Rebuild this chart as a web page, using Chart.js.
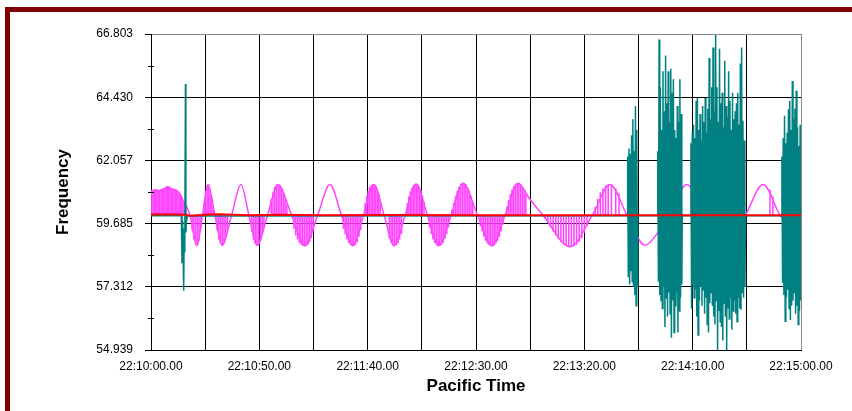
<!DOCTYPE html>
<html lang="en">
<head>
    <meta charset="UTF-8">
    <title>Frequency - Pacific Time</title>
    <script src="https://cdn.jsdelivr.net/npm/chart.js@4"></script>
    <style>
        * { margin: 0; padding: 0; box-sizing: border-box; }
        html, body { width: 852px; height: 411px; background: #fff; overflow: hidden; }
        .frame {
            position: absolute; left: 5px; top: 7px; right: 0; bottom: -10px;
            border-left: 5px solid #800000; border-top: 5px solid #800000;
        }
        #freqChart { position: absolute; left: 0; top: 0; }
    </style>
</head>
<body>
    <div class="frame"></div>
    <canvas id="freqChart" width="852" height="411"></canvas>

    <script>
        // seconds after 22:10:00
        const xLabels = ['22:10:00.00', '22:10:50.00', '22:11:40.00', '22:12:30.00', '22:13:20.00', '22:14:10.00', '22:15:00.00'];
        const xGrid = [0, 25, 50, 75, 100, 125, 150, 175, 200, 225, 250, 275, 300];
        const yLabels = ['54.939', '57.312', '59.685', '62.057', '64.430', '66.803'];
        const yMajor = [54.939, 57.312, 59.685, 62.057, 64.430, 66.803];

        // magenta curve (knots)
        const magT = [0, 1.8, 4.2, 6.0, 7.8, 9.7, 11.5, 13.4, 14.8, 16.6, 18.0, 21.2, 23.8, 26.3, 29.5, 32.8, 37.2, 41.5, 45.2, 48.9,
            53.8, 58.6, 64.9, 71.1, 76.9, 82.6, 87.9, 93.2, 98.1, 102.9, 107.6, 112.2, 117.3, 122.3, 127.6, 132.9, 138.5, 144.0,
            150.7, 157.4, 163.4, 169.4, 174.9, 180.9, 193.4, 204.0, 211.8, 219.7, 228.0, 233.5, 240.0, 247.4, 255.0, 262.6, 274.2,
            282.5, 290.3, 300];
        const magV = [60.92, 60.95, 60.93, 61.0, 61.07, 60.98, 60.95, 60.8, 60.55, 60.3, 60.0, 58.85, 60.0, 61.15, 60.0, 58.87, 60.0, 61.15, 60.0, 58.87,
            60.0, 61.15, 60.0, 58.85, 60.0, 61.15, 60.0, 58.85, 60.0, 61.15, 60.0, 58.85, 60.0, 61.17, 60.0, 58.85, 60.0, 61.2,
            60.0, 58.85, 60.0, 61.2, 60.6, 60.0, 58.82, 60.05, 61.15, 60.0, 58.87, 59.3, 60.25, 61.15, 60.0, 58.9, 60.0,
            61.15, 60.0, 58.95];

        // magenta drop lines down/up to the 60 Hz base
        const magBase = 60.0;
        const magDropT = [0.4, 1.0, 1.6, 2.2, 2.8, 3.4, 4.0, 4.6, 5.2, 5.8, 6.4, 7.0, 7.6, 8.2, 8.8, 9.4, 10.0, 10.6, 11.2, 11.8, 12.4, 13.0, 13.6, 14.2, 14.8, 15.4, 16.0,
            19.0, 19.8, 20.6, 21.4, 22.2, 23.0,
            24.5, 25.2, 25.9, 26.6, 27.3, 28.0, 28.7,
            30.5, 31.3, 32.1, 32.9, 33.7, 34.5, 35.3,
            46.5, 47.3, 48.1, 48.9, 49.7, 50.5, 51.3, 52.1,
            55.5, 56.3, 57.1, 57.9, 58.7, 59.5, 60.3, 61.1, 61.9, 62.7,
            66.0, 66.8, 67.6, 68.4, 69.2, 70.0, 70.8, 71.6, 72.4, 73.2, 74.0, 74.8,
            88.8, 89.6, 90.4, 91.2, 92.0, 92.8, 93.6, 94.4, 95.2, 96.0, 96.8,
            98.8, 99.5, 100.2, 100.9, 101.6, 102.3, 103.0, 103.7, 104.4, 105.1, 105.8,
            110.0, 110.8, 111.6, 112.4, 113.2, 114.0, 114.8, 115.6,
            118.3, 119.0, 119.7, 120.4, 121.1, 121.8, 122.5, 123.2, 123.9, 124.6, 125.3, 126.0,
            128.5, 129.3, 130.1, 130.9, 131.7, 132.5, 133.3, 134.1, 134.9, 135.7, 136.5, 137.3,
            138.9, 139.7, 140.5, 141.3, 142.1, 142.9, 143.7, 144.5, 145.3, 146.1, 146.9, 147.7, 148.5,
            152.0, 152.8, 153.6, 154.4, 155.2, 156.0, 156.8, 157.6, 158.4, 159.2, 160.0, 160.8, 161.6, 162.4,
            164.2, 165.0, 165.8, 166.6, 167.4, 168.2, 169.0, 169.8, 170.6, 171.4, 172.2, 173.0,
            182.0, 183.2, 184.4, 185.6, 186.8, 188.0, 189.2, 190.4, 191.6, 192.8, 194.0, 195.2, 196.4, 197.6, 198.8, 200.0, 201.2,
            205.0, 206.2, 207.4, 208.6, 209.8, 211.0, 212.5, 214.5, 216.0,
            285.7, 287.0];
        const magDropV = [60.92, 60.93, 60.95, 60.95, 60.94, 60.93, 60.93, 60.96, 60.98, 61.0, 61.02, 61.05, 61.07, 61.05, 61.0, 60.98, 60.97, 60.96, 60.95, 60.93, 60.88, 60.82, 60.75, 60.65, 60.55, 60.45, 60.36,
            59.45, 59.1, 58.9, 58.86, 59.05, 59.5,
            60.45, 60.9, 61.1, 61.13, 60.98, 60.65, 60.3,
            59.45, 59.1, 58.92, 58.87, 58.95, 59.2, 59.5,
            59.4, 59.1, 58.93, 58.87, 58.9, 59.05, 59.3, 59.55,
            60.6, 60.85, 61.05, 61.13, 61.15, 61.12, 61.0, 60.85, 60.65, 60.4,
            59.5, 59.25, 59.1, 58.98, 58.9, 58.86, 58.85, 58.86, 58.9, 59.0, 59.15, 59.4,
            59.5, 59.3, 59.1, 58.97, 58.9, 58.86, 58.86, 58.9, 59.0, 59.2, 59.45,
            60.45, 60.7, 60.9, 61.05, 61.12, 61.15, 61.15, 61.1, 60.98, 60.8, 60.55,
            59.15, 59.0, 58.9, 58.86, 58.88, 58.95, 59.1, 59.3,
            60.45, 60.7, 60.88, 61.02, 61.1, 61.15, 61.17, 61.13, 61.05, 60.92, 60.72, 60.5,
            59.55, 59.3, 59.1, 58.97, 58.9, 58.86, 58.86, 58.9, 58.98, 59.12, 59.3, 59.55,
            60.2, 60.45, 60.7, 60.9, 61.05, 61.15, 61.2, 61.2, 61.15, 61.05, 60.9, 60.72, 60.5,
            59.6, 59.4, 59.2, 59.05, 58.95, 58.88, 58.85, 58.85, 58.88, 58.95, 59.05, 59.2, 59.4, 59.65,
            60.3, 60.55, 60.78, 60.95, 61.08, 61.16, 61.2, 61.2, 61.15, 61.05, 60.92, 60.78,
            59.88, 59.72, 59.55, 59.4, 59.25, 59.12, 59.0, 58.92, 58.86, 58.83, 58.82, 58.84, 58.9, 59.0, 59.15, 59.35, 59.6,
            60.3, 60.6, 60.85, 61.0, 61.1, 61.15, 61.15, 61.0, 60.8,
            60.95, 60.7];

        // teal series outside the bursts
        const tealT = [0, 14.0, 14.3, 14.6, 14.9, 15.1, 15.3, 15.6, 15.9, 16.1, 16.4, 16.8, 219.7, 224.7, 233.7, 245.2, 249.0, 274.4, 291.0];
        const tealV = [59.98, 59.98, 58.2, 59.8, 58.1, 57.16, 59.5, 58.6, 64.93, 59.35, 59.8, 59.97, 59.98, 59.98, 59.98, 59.98, 59.98, 59.98, 59.98];

        // teal bursts, sampled every tealStep seconds from their start
        const tealStep = 0.3;
        const tealBurstStart = [220.0, 233.9, 249.2, 291.2];
        const tealBurstA = [62.2, 57.7, 62.5, 57.4, 62.3, 57.9, 63.0, 57.5, 63.6, 57.3, 62.4, 57.0, 64.1, 56.6, 63.2, 57.4];
        const tealBurstB = [62.4, 57.5, 66.6, 57.0, 64.8, 56.8, 63.2, 56.5, 65.4, 57.3, 63.9, 55.8, 66.0, 56.9, 64.2, 56.2, 65.4, 57.1, 63.5,
            56.3, 65.5, 55.4, 64.6, 56.8, 65.1, 55.6, 63.2, 56.6, 62.9, 57.1, 64.1, 55.6, 63.5, 56.4, 65.1, 56.9, 63.8, 57.4];
        const tealBurstC = [62.7, 56.5, 63.1, 57.4, 63.4, 56.9, 62.9, 57.2, 64.3, 56.2, 64.4, 55.5, 63.2, 56.8, 63.8, 57.3, 62.8, 56.6,
            64.1, 57.2, 63.5, 56.3, 64.4, 56.9, 63.1, 55.9, 64.0, 55.6, 65.9, 56.7, 63.6, 57.1, 64.8, 56.6, 66.3, 56.2,
            63.9, 55.9, 66.77, 56.8, 64.8, 54.9, 63.5, 56.4, 66.25, 56.0, 64.2, 55.8, 64.6, 55.3, 63.3, 56.7, 65.8, 56.2,
            64.1, 54.9, 63.7, 56.5, 65.4, 56.1, 64.3, 56.9, 63.2, 55.7, 64.6, 56.4, 63.6, 56.8, 63.9, 56.3, 64.2, 56.0,
            64.6, 56.9, 63.4, 56.5, 65.7, 56.45, 66.3, 57.1, 63.55, 56.9, 62.8, 57.3];
        const tealBurstD = [62.2, 57.46, 62.9, 57.0, 63.73, 56.02, 62.7, 56.9, 63.1, 57.2, 63.98, 56.5, 64.3, 56.07, 63.2, 56.6,
            65.04, 56.8, 63.6, 57.1, 64.0, 56.3, 64.67, 56.6, 63.3, 55.9, 62.6, 56.4, 63.4, 56.8];

        // red reference line
        const redT = [0, 10, 16, 18, 25, 32, 45, 60, 80, 110, 150, 200, 250, 300];
        const redV = [60.03, 60.03, 60.02, 59.98, 60.02, 60.04, 60.0, 60.02, 60.0, 60.01, 60.0, 60.0, 60.0, 60.0];

        const MAGENTA = '#ff44ff';
        const TEAL = '#008080';
        const RED = '#ff0000';
        const FONT = "'Liberation Sans', Arial, sans-serif";

        function pairs(ts, vs) {
            return ts.map((t, i) => ({ x: t, y: vs[i] }));
        }

        let tealPts = pairs(tealT, tealV);
        [tealBurstA, tealBurstB, tealBurstC, tealBurstD].forEach((burst, b) => {
            burst.forEach((v, i) => tealPts.push({ x: tealBurstStart[b] + i * tealStep, y: v }));
        });
        tealPts.sort((a, b) => a.x - b.x);

        const dropPts = magDropT.map((t, i) => ({ x: t, y: [magBase, magDropV[i]] }));

        // y ticks: majors plus the minor marks half way between them
        const yTicks = [];
        yMajor.forEach((v, i) => {
            yTicks.push(v);
            if (i < yMajor.length - 1) yTicks.push((v + yMajor[i + 1]) / 2);
        });

        const minorTicks = {
            id: 'minorTicks',
            afterDraw(chart) {
                const ys = chart.scales.y;
                const c = chart.ctx;
                c.save();
                c.strokeStyle = '#000';
                c.lineWidth = 1;
                yTicks.forEach((v, i) => {
                    if (i % 2 === 0) return;
                    const py = Math.round(ys.getPixelForValue(v)) + 0.5;
                    c.beginPath();
                    c.moveTo(ys.right - 3, py);
                    c.lineTo(ys.right + 3, py);
                    c.stroke();
                });
                c.restore();
            }
        };

        new Chart(document.getElementById('freqChart').getContext('2d'), {
            type: 'line',
            data: {
                datasets: [
                    { type: 'bar', data: dropPts, backgroundColor: MAGENTA, borderWidth: 0, barThickness: 0.9, grouped: false, order: 3 },
                    { data: pairs(magT, magV), borderColor: MAGENTA, borderWidth: 1.5, cubicInterpolationMode: 'monotone', pointRadius: 0, order: 2 },
                    { data: tealPts, borderColor: TEAL, borderWidth: 1.5, pointRadius: 0, tension: 0, order: 1 },
                    { data: pairs(redT, redV), borderColor: RED, borderWidth: 2, pointRadius: 0, tension: 0, order: 0 }
                ]
            },
            options: {
                responsive: false,
                animation: false,
                layout: { padding: { left: 48, right: 51, top: 34, bottom: 10 } },
                plugins: { legend: { display: false }, tooltip: { enabled: false } },
                scales: {
                    x: {
                        type: 'linear', min: 0, max: 300, offset: false,
                        afterBuildTicks: s => { s.ticks = xGrid.map(v => ({ value: v })); },
                        afterFit: s => { s.height = 51; },
                        ticks: {
                            autoSkip: false, maxRotation: 0, padding: 9, color: '#000',
                            font: { family: FONT, size: 12 },
                            callback: v => (v % 50 === 0 ? xLabels[v / 50] : '')
                        },
                        grid: {
                            offset: false, drawTicks: false, lineWidth: 1,
                            color: ctx => (ctx.tick && ctx.tick.value === 300 ? '#888' : '#000')
                        },
                        border: { color: '#000' },
                        title: {
                            display: true, text: 'Pacific Time', color: '#000',
                            font: { family: FONT, size: 17, weight: 'bold' },
                            padding: { top: 0, bottom: 4 }
                        }
                    },
                    y: {
                        min: 54.939, max: 66.803,
                        afterBuildTicks: s => { s.ticks = yTicks.map(v => ({ value: v })); },
                        afterFit: s => { s.width = 103; },
                        ticks: {
                            autoSkip: false, padding: 12, color: '#000',
                            font: { family: FONT, size: 12 },
                            callback: (v, i) => (i % 2 === 0 ? yLabels[i / 2] : '')
                        },
                        grid: {
                            tickLength: 6, lineWidth: 1,
                            color: ctx => (ctx.index % 2 ? 'rgba(0,0,0,0)' : (ctx.index === 10 ? '#888' : '#000')),
                            tickColor: ctx => (ctx.index % 2 ? 'rgba(0,0,0,0)' : '#000')
                        },
                        border: { color: '#000' },
                        title: {
                            display: true, text: 'Frequency', color: '#000',
                            font: { family: FONT, size: 17, weight: 'bold' },
                            padding: { top: 5, bottom: 0 }
                        }
                    }
                }
            },
            plugins: [minorTicks]
        });
    </script>
</body>
</html>
